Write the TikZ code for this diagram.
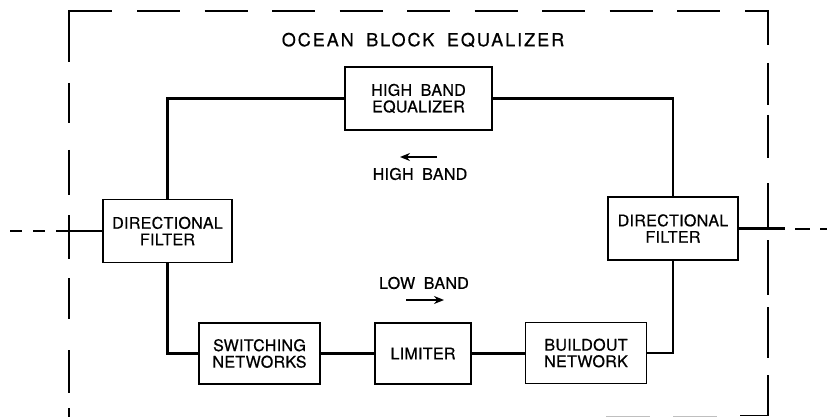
\documentclass[tikz,border=0pt]{standalone}
\usepackage{fontspec}
\setmainfont{TeX Gyre Heros}
\newfontfamily\titlefont[LetterSpace=11,WordSpace=1.8,FakeBold=0.6]{TeX Gyre Heros}
\newfontfamily\boxfont[LetterSpace=2,WordSpace=1.8,FakeBold=0.6]{TeX Gyre Heros}
\usetikzlibrary{arrows.meta}
\begin{document}
\begin{tikzpicture}[x=1pt,y=-1pt,
  blk/.style={draw, line width=1.1pt, inner sep=0pt, align=center,
    font=\boxfont\fontsize{16}{16.5}\selectfont},
  conn/.style={line width=2.2pt},
  bound/.style={line width=1.3pt},
  iodash/.style={line width=2pt, dash pattern=on 12pt off 11pt},
  lbl/.style={font=\boxfont\fontsize{16}{16.5}\selectfont, inner sep=0pt},
  bandarrow/.style={line width=2pt, -{Stealth[length=10pt,width=8pt]}}]
\useasboundingbox (0,0) rectangle (827,417);
\fill[white] (0,0) rectangle (827,417);

% dashed boundary of the ocean block equalizer
\draw[bound] (69,62) -- (69,11) -- (112,11);
\draw[bound, dash pattern=on 43pt off 24.5pt] (137,11) -- (720,11);
\draw[bound] (745,11) -- (768,11) -- (768,45);
\foreach \a/\b in {63/105,115/158,183/228,240/295,307/358,375/415}
  \draw[bound] (768,\a) -- (768,\b);
\draw[bound] (768,400) -- (768,415.5) -- (740,415.5);
\draw[line width=1pt, black!25, dash pattern=on 44pt off 23pt] (606,416) -- (720,416);
\foreach \a/\b in {83/123,150/195,215/259,278/319,350/393,408/420}
  \draw[bound] (69,\a) -- (69,\b);

\node[font=\titlefont\fontsize{18}{20}\selectfont, inner sep=0pt] (title) at (423,40) {OCEAN BLOCK EQUALIZER};

% blocks
\node[blk, minimum width=129pt, minimum height=63pt] (dfl) at (167.5,231) {DIRECTIONAL\\FILTER};
\node[blk, minimum width=130pt, minimum height=63pt] (dfr) at (673,228.5) {DIRECTIONAL\\FILTER};
\node[blk, minimum width=147pt, minimum height=63pt] (hbe) at (418.5,98.5) {HIGH BAND\\EQUALIZER};
\node[blk, minimum width=121pt, minimum height=61pt] (sw) at (259.5,353.5) {SWITCHING\\NETWORKS};
\node[blk, minimum width=96pt, minimum height=61pt] (lim) at (423,353.5) {LIMITER};
\node[blk, minimum width=121pt, minimum height=61pt] (bo) at (586,353) {BUILDOUT\\NETWORK};

% connections
\draw[conn] (hbe.west) -| (dfl.north);
\draw[conn] (hbe.east) -| (dfr.north);
\draw[conn] (dfl.south) |- (sw.west);
\draw[conn] (sw.east) -- (lim.west);
\draw[conn] (lim.east) -- (lim.east -| bo.west);
\draw[conn] (bo.east) -| (dfr.south);

% input / output lines
\coordinate (inl) at (10,231);
\coordinate (jl) at (57,231);
\draw[iodash] (inl) -- (jl);
\draw[conn] (jl) -- (dfl.west);
\coordinate (jr) at (785,228.5);
\coordinate (outr) at (827,228.5);
\draw[conn] (dfr.east) -- (jr);
\draw[line width=2pt, dash pattern=on 15pt off 10pt, dash phase=15pt] (jr) -- (outr);

% band labels and arrows
\node[lbl] (hb) at (420,174) {HIGH BAND};
\coordinate (hbs) at (437,157);
\coordinate (hbe2) at (400,157);
\draw[bandarrow] (hbs) -- (hbe2);
\node[lbl] (lb) at (424,283) {LOW BAND};
\coordinate (lbs) at (406,300);
\coordinate (lbe) at (444,300);
\draw[bandarrow] (lbs) -- (lbe);
\end{tikzpicture}
\end{document}
